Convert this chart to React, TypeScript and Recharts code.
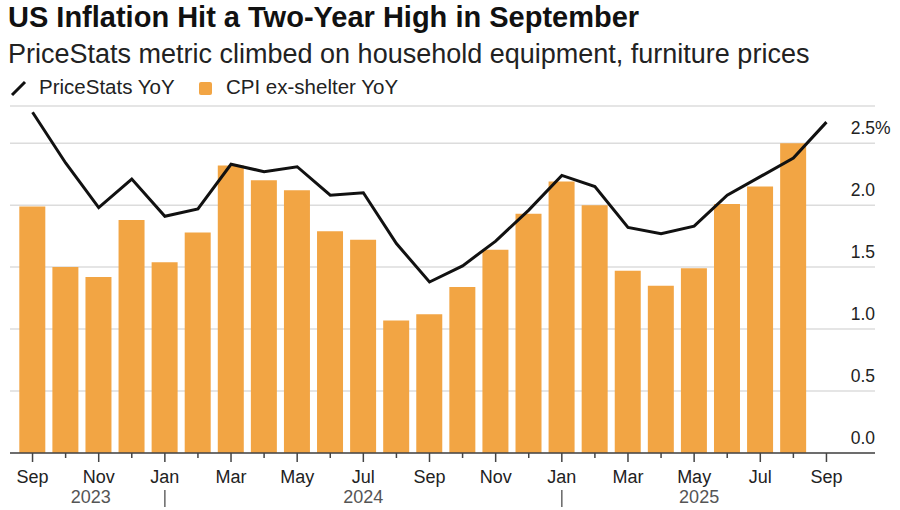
import React from 'react';
import { ComposedChart, Bar, Line, XAxis, YAxis, CartesianGrid } from 'recharts';

const months = [
  'Sep', 'Oct', 'Nov', 'Dec',
  'Jan', 'Feb', 'Mar', 'Apr', 'May', 'Jun', 'Jul', 'Aug', 'Sep', 'Oct', 'Nov', 'Dec',
  'Jan', 'Feb', 'Mar', 'Apr', 'May', 'Jun', 'Jul', 'Aug', 'Sep',
];
const years = [
  2023, 2023, 2023, 2023,
  2024, 2024, 2024, 2024, 2024, 2024, 2024, 2024, 2024, 2024, 2024, 2024,
  2025, 2025, 2025, 2025, 2025, 2025, 2025, 2025, 2025,
];

// PriceStats YoY, Sep 2023 - Sep 2025
const priceStats = [
  2.75, 2.34, 1.98, 2.21, 1.91, 1.97, 2.33, 2.27, 2.31, 2.08, 2.1, 1.69, 1.38,
  1.51, 1.71, 1.96, 2.24, 2.15, 1.82, 1.77, 1.83, 2.08, 2.23, 2.38, 2.67,
];
// CPI ex-shelter YoY, Sep 2023 - Aug 2025
const cpiExShelter = [
  1.99, 1.5, 1.42, 1.88, 1.54, 1.78, 2.32, 2.2, 2.12, 1.79, 1.72, 1.07, 1.12,
  1.34, 1.64, 1.93, 2.19, 2.0, 1.47, 1.35, 1.49, 2.01, 2.15, 2.5,
];

const yTicks = [0, 0.5, 1, 1.5, 2, 2.5];

// year label placement: [month index, year text, nudge]
const yearLabels: Record<number, [string, number]> = {
  2: ['2023', -8],
  10: ['2024', 0],
  20: ['2025', 5],
};
const yearBreaks = [4, 16];

const data = months.map((m, i) => ({
  id: `${m} ${years[i]}`,
  month: m,
  priceStats: priceStats[i],
  cpi: i < cpiExShelter.length ? cpiExShelter[i] : null,
}));

const FONT = '"Liberation Sans", Arial, Helvetica, sans-serif';
const ORANGE = '#F2A544';

const MonthTick = (props: any) => {
  const { x, y, index } = props;
  const labeled = index % 2 === 0;
  const year = yearLabels[index];
  return (
    <g>
      <line x1={x} x2={x} y1={y} y2={y + (labeled ? 9 : 5)} stroke="#444" strokeWidth={1.5} />
      {labeled && (
        <text x={x} y={y + 30} textAnchor="middle" fontSize={18} fill="#222" fontFamily={FONT}>
          {months[index]}
        </text>
      )}
      {year && (
        <text x={x + year[1]} y={y + 50} textAnchor="middle" fontSize={18} fill="#555" fontFamily={FONT}>
          {year[0]}
        </text>
      )}
      {yearBreaks.includes(index) && (
        <line x1={x} x2={x} y1={y + 37} y2={y + 54} stroke="#666" strokeWidth={1.5} />
      )}
    </g>
  );
};

const ValueTick = (props: any) => {
  const { x, y, payload } = props;
  const v = payload.value as number;
  return (
    <g>
      <text x={x} y={y - 9} textAnchor="end" fontSize={17.5} fill="#222" fontFamily={FONT}>
        {v.toFixed(1)}
      </text>
      {v === 2.5 && (
        <text x={x} y={y - 9} textAnchor="start" fontSize={17.5} fill="#222" fontFamily={FONT}>
          %
        </text>
      )}
    </g>
  );
};

export default function App() {
  return (
    <div style={{ position: 'absolute', left: 0, top: 0, width: 900, height: 510, background: '#fff', fontFamily: FONT }}>
      <svg width={900} height={105} style={{ position: 'absolute', left: 0, top: 0 }}>
        <text x={8} y={27} fontSize={29} fontWeight="bold" fill="#111" fontFamily={FONT}>
          US Inflation Hit a Two-Year High in September
        </text>
        <text x={8} y={63} fontSize={27} fill="#222" fontFamily={FONT}>
          PriceStats metric climbed on household equipment, furniture prices
        </text>
        <line x1={12} y1={95} x2={25} y2={82} stroke="#111" strokeWidth={3} />
        <text x={39} y={94} fontSize={20.5} fill="#222" fontFamily={FONT}>
          PriceStats YoY
        </text>
        <rect x={199} y={82} width={13} height={13} rx={2} fill={ORANGE} />
        <text x={226} y={94} fontSize={20.5} fill="#222" fontFamily={FONT}>
          CPI ex-shelter YoY
        </text>
      </svg>
      <div style={{ position: 'absolute', left: 0, top: 0 }}>
        <ComposedChart
          width={900}
          height={510}
          data={data}
          margin={{ top: 106, right: 0, bottom: 0, left: 10 }}
          barCategoryGap="10%"
        >
          <CartesianGrid vertical={false} stroke="#dcdcdc" strokeWidth={1.5} />
          <XAxis
            dataKey="id"
            interval={0}
            height={57}
            padding={{ left: 6, right: 32 }}
            axisLine={{ stroke: '#444', strokeWidth: 1.5 }}
            tickLine={false}
            tickSize={0}
            tickMargin={0}
            tick={<MonthTick />}
          />
          <YAxis
            orientation="right"
            width={25}
            domain={[0, 2.8]}
            ticks={yTicks}
            axisLine={false}
            tickLine={false}
            tickSize={0}
            tickMargin={0}
            tick={<ValueTick />}
          />
          <Bar dataKey="cpi" fill={ORANGE} isAnimationActive={false} />
          <Line
            dataKey="priceStats"
            type="linear"
            stroke="#111"
            strokeWidth={3}
            dot={false}
            activeDot={false}
            isAnimationActive={false}
          />
        </ComposedChart>
      </div>
    </div>
  );
}
